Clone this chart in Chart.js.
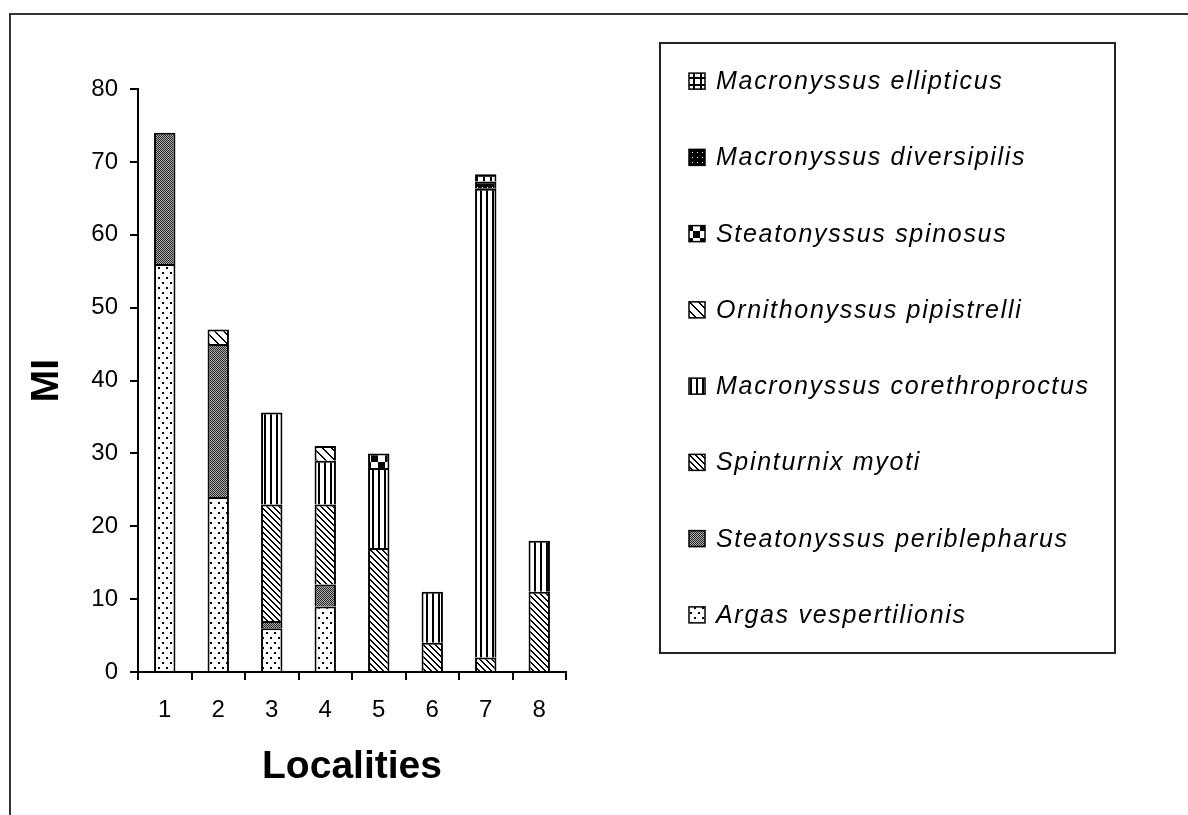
<!DOCTYPE html>
<html>
<head>
<meta charset="utf-8">
<title>MI by locality</title>
<script src="https://cdn.jsdelivr.net/npm/chart.js"></script>
<style>
  html, body { margin: 0; padding: 0; background: #fff; }
  #wrap { width: 1188px; height: 815px; }
</style>
</head>
<body>
<div id="wrap"><canvas id="miChart" width="1188" height="815"></canvas></div>
<script>
// x categories
const localities = ['1', '2', '3', '4', '5', '6', '7', '8'];

// y axis range
const yMin = 0;
const yMax = 80;
const yStep = 10;

// MI per species, stacked bottom -> top (null = species absent)
const argasVespertilionis      = [56, 24, 6, 9, null, null, null, null];
const steatonyssusPeriblepharus = [18, 21, 1, 3, null, null, null, null];
const spinturnixMyoti          = [null, null, 16, 11, 17, 4, 2, 11];
const macronyssusCorethro      = [null, null, 12.6, 6, 11, 7, 64.3, 7];
const ornithonyssusPipistrelli = [null, 2, null, 2, null, null, null, null];
const steatonyssusSpinosus     = [null, null, null, null, 2, null, null, null];
const macronyssusDiversipilis  = [null, null, null, null, null, null, 1, null];
const macronyssusEllipticus    = [null, null, null, null, null, null, 1, null];

const FONT = '"Liberation Sans", Arial, sans-serif';

// little helper to build the black & white fills
function makePattern(w, h, draw) {
    const c = document.createElement('canvas');
    c.width = w; c.height = h;
    const g = c.getContext('2d');
    g.fillStyle = '#fff';
    g.fillRect(0, 0, w, h);
    g.fillStyle = '#000';
    draw(g, w, h);
    return g.createPattern(c, 'repeat');
}

const pDots = makePattern(8, 10, (g) => {
    g.fillRect(2, 2, 2, 2);
    g.fillRect(6, 7, 2, 2);
});
const pGrey = makePattern(2, 2, (g) => {
    g.fillStyle = '#2a2a2a'; g.fillRect(0, 0, 1, 1); g.fillRect(1, 1, 1, 1);
    g.fillStyle = '#aaa'; g.fillRect(1, 0, 1, 1); g.fillRect(0, 1, 1, 1);
});
const pDiag = makePattern(6, 6, (g, w) => {
    for (let i = 0; i < w; i++) { g.fillRect(i, i, 1, 1); g.fillRect((i + 1) % w, i, 1, 1); }
});
const pVert = makePattern(6, 1, (g) => { g.fillRect(0, 0, 2, 1); });
const pWideDiag = makePattern(9, 9, (g, w) => {
    for (let i = 0; i < w; i++) { g.fillRect(i, i, 1, 1); g.fillRect((i + 1) % w, i, 1, 1); }
});
const pChecker = makePattern(14, 14, (g) => {
    g.fillRect(0, 0, 7, 7); g.fillRect(7, 7, 7, 7);
});
const pBlackDots = makePattern(5, 5, (g) => {
    g.fillRect(0, 0, 5, 5);
    g.fillStyle = '#fff'; g.fillRect(2, 2, 1, 1);
});
const pGrid = makePattern(7, 7, (g) => {
    g.fillRect(0, 0, 7, 2); g.fillRect(0, 0, 2, 7);
});

function series(label, data, fill) {
    return { label, data, backgroundColor: fill, borderColor: '#000', borderWidth: 2 };
}

// page frame behind the chart
const pageFrame = {
    id: 'pageFrame',
    beforeDraw(chart) {
        const ctx = chart.ctx;
        ctx.save();
        ctx.fillStyle = '#fff';
        ctx.fillRect(0, 0, chart.width, chart.height);
        ctx.strokeStyle = '#333';
        ctx.lineWidth = 2;
        ctx.beginPath();
        ctx.moveTo(10, chart.height + 5);
        ctx.lineTo(10, 14);
        ctx.lineTo(chart.width + 5, 14);
        ctx.stroke();
        ctx.restore();
    }
};

// boxed legend on the right, top item = last dataset
const legendFrame = { left: 660, top: 43, width: 455, height: 610 };
const boxLegend = {
    id: 'boxLegend',
    afterDraw(chart) {
        const ctx = chart.ctx;
        const sets = chart.data.datasets.slice().reverse();
        const step = legendFrame.height / sets.length;
        ctx.save();
        ctx.strokeStyle = '#222';
        ctx.lineWidth = 2;
        ctx.strokeRect(legendFrame.left, legendFrame.top, legendFrame.width, legendFrame.height);
        ctx.font = 'italic 25px ' + FONT;
        ctx.letterSpacing = '1.7px';
        ctx.textBaseline = 'middle';
        ctx.textAlign = 'left';
        sets.forEach((ds, i) => {
            const cy = legendFrame.top + step * (i + 0.5);
            const bx = legendFrame.left + 29;
            ctx.fillStyle = ds.backgroundColor;
            ctx.fillRect(bx, cy - 8, 16, 16);
            ctx.lineWidth = 1.5;
            ctx.strokeStyle = '#000';
            ctx.strokeRect(bx, cy - 8, 16, 16);
            ctx.fillStyle = '#000';
            ctx.fillText(ds.label, legendFrame.left + 56, cy + 1);
        });
        ctx.restore();
    }
};

const ctx = document.getElementById('miChart').getContext('2d');
new Chart(ctx, {
    type: 'bar',
    data: {
        labels: localities,
        datasets: [
            series('Argas vespertilionis', argasVespertilionis, pDots),
            series('Steatonyssus periblepharus', steatonyssusPeriblepharus, pGrey),
            series('Spinturnix myoti', spinturnixMyoti, pDiag),
            series('Macronyssus corethroproctus', macronyssusCorethro, pVert),
            series('Ornithonyssus pipistrelli', ornithonyssusPipistrelli, pWideDiag),
            series('Steatonyssus spinosus', steatonyssusSpinosus, pChecker),
            series('Macronyssus diversipilis', macronyssusDiversipilis, pBlackDots),
            series('Macronyssus ellipticus', macronyssusEllipticus, pGrid)
        ]
    },
    options: {
        responsive: false,
        animation: false,
        layout: { padding: { left: 10, top: 89, right: 622, bottom: 23 } },
        datasets: { bar: { barPercentage: 0.4, categoryPercentage: 1.0 } },
        plugins: {
            legend: { display: false },
            tooltip: { enabled: false }
        },
        scales: {
            x: {
                stacked: true,
                afterFit: (scale) => { scale.height = 120; },
                border: { display: true, color: '#000', width: 2 },
                grid: { display: true, drawOnChartArea: false, drawTicks: true, tickLength: 8, color: '#000', lineWidth: 2 },
                ticks: { color: '#000', padding: 16, font: { family: FONT, size: 24 } },
                title: {
                    display: true, text: 'Localities', color: '#000',
                    font: { family: FONT, size: 39, weight: 'bold' },
                    padding: { top: 0, bottom: 1 }
                }
            },
            y: {
                stacked: true,
                min: yMin,
                max: yMax,
                afterFit: (scale) => { scale.width = 128; },
                border: { display: true, color: '#000', width: 2 },
                grid: { display: true, drawOnChartArea: false, drawTicks: true, tickLength: 8, color: '#000', lineWidth: 2 },
                ticks: { stepSize: yStep, color: '#000', padding: 12, font: { family: FONT, size: 24 } },
                title: {
                    display: true, text: 'MI', color: '#000',
                    font: { family: FONT, size: 39, weight: 'bold' },
                    padding: { top: 14, bottom: 0 }
                }
            }
        }
    },
    plugins: [pageFrame, boxLegend]
});
</script>
</body>
</html>
